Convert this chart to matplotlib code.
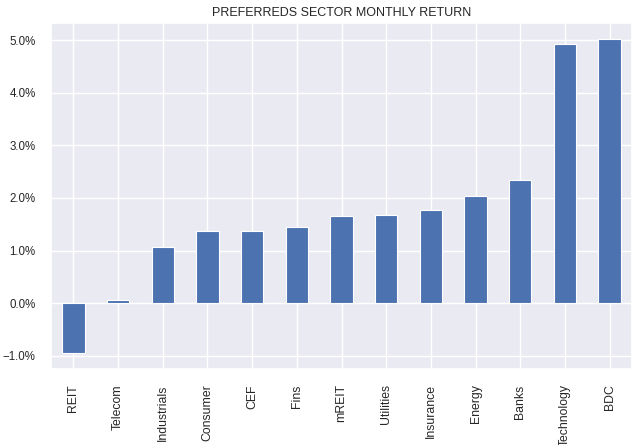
import matplotlib
matplotlib.use("Agg")
import matplotlib.pyplot as plt
import seaborn as sns
import pandas as pd
from matplotlib.ticker import FuncFormatter

# sector names and monthly returns (%), sorted ascending
sectors = ["REIT", "Telecom", "Industrials", "Consumer", "CEF", "Fins", "mREIT",
           "Utilities", "Insurance", "Energy", "Banks", "Technology", "BDC"]
returns = [-0.95, 0.06, 1.06, 1.37, 1.37, 1.45, 1.66, 1.68, 1.77, 2.03, 2.34, 4.93, 5.02]

sns.set_theme(style="darkgrid")
plt.rcParams['font.family'] = ['Liberation Sans', 'DejaVu Sans']

s = pd.Series(returns, index=sectors)

fig = plt.figure(figsize=(6.4, 4.45), dpi=100)
ax = fig.add_axes([51 / 640, 1 - 369 / 445, (632 - 51) / 640, (369 - 23.3) / 445])
s.plot(kind="bar", ax=ax, color="#4c72b0", edgecolor="white", linewidth=0.8)

ax.yaxis.set_major_formatter(FuncFormatter(lambda v, p: f"{v:.1f}%".replace("-", "\u2212")))
ax.set_title("PREFERREDS SECTOR MONTHLY RETURN", fontsize=9, color="#262626", pad=5)
ax.tick_params(axis="y", labelsize=8.3, pad=5)
ax.tick_params(axis="x", labelsize=8.8, pad=5)

plt.savefig("out.png", dpi=100)
